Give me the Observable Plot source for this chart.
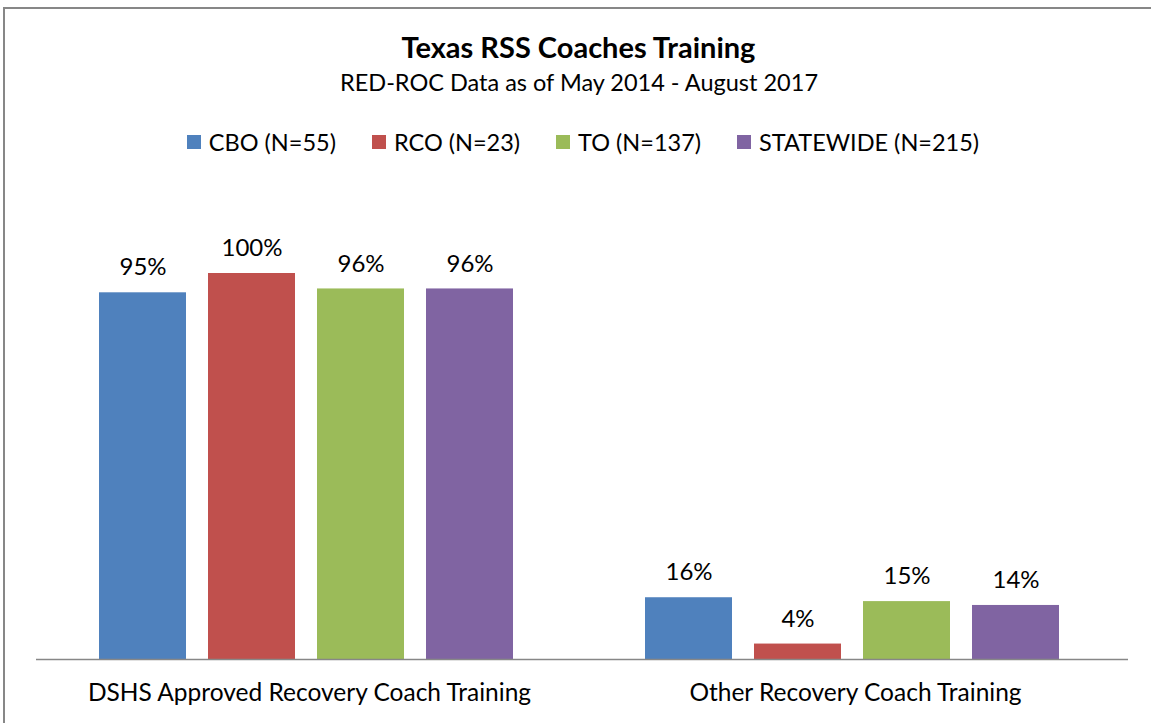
<!DOCTYPE html>
<html>
<head>
<meta charset="utf-8">
<script src="https://cdn.jsdelivr.net/npm/d3@7"></script>
<script src="https://cdn.jsdelivr.net/npm/@observablehq/plot@0.6"></script>
<style>
  html, body { margin: 0; padding: 0; background: #fff; width: 1151px; height: 723px; overflow: hidden; }
  body { position: relative; font-family: Lato, "Noto Sans", sans-serif; color: #000; }
  #frame { position: absolute; left: 3px; top: 7px; width: 1200px; height: 800px; border: 2px solid #878787; box-sizing: border-box; }
  #title { position: absolute; left: 0; width: 1157px; top: 29px; text-align: center; font-weight: bold; font-size: 29px; line-height: 35px; }
  #subtitle { position: absolute; left: 0; width: 1158px; top: 68px; text-align: center; font-size: 23.5px; line-height: 28px; }
  #legend { position: absolute; left: 0; width: 1166px; top: 128px; display: flex; justify-content: center; font-size: 23.5px; line-height: 28px; }
  .item { display: flex; align-items: center; margin: 0 18px; }
  .sw { width: 14px; height: 14px; margin-right: 8px; }
  #chart { position: absolute; left: 0; top: 0; }
</style>
</head>
<body>
<div id="frame"></div>
<div id="chart"></div>
<div id="title"></div>
<div id="subtitle"></div>
<div id="legend"></div>
<script>
const titleText = "Texas RSS Coaches Training";
const subtitleText = "RED-ROC Data as of May 2014 - August 2017";
const categories = ["DSHS Approved Recovery Coach Training", "Other Recovery Coach Training"];
const seriesNames = ["CBO (N=55)", "RCO (N=23)", "TO (N=137)", "STATEWIDE (N=215)"];
const seriesColors = ["#4F81BD", "#C0504D", "#9BBB59", "#8064A2"];
const dshsValues = [0.95, 1.00, 0.96, 0.96];
const otherValues = [0.16, 0.04, 0.15, 0.14];

const data = [];
seriesNames.forEach((s, i) => {
  data.push({category: categories[0], series: s, value: dshsValues[i]});
  data.push({category: categories[1], series: s, value: otherValues[i]});
});

document.getElementById("title").textContent = titleText;
document.getElementById("subtitle").textContent = subtitleText;
const legend = document.getElementById("legend");
seriesNames.forEach((s, i) => {
  const it = document.createElement("div");
  it.className = "item";
  const sw = document.createElement("div");
  sw.className = "sw";
  sw.style.background = seriesColors[i];
  const tx = document.createElement("span");
  tx.textContent = s;
  it.appendChild(sw); it.appendChild(tx);
  legend.appendChild(it);
});

const chart = Plot.plot({
  width: 1151,
  height: 723,
  marginTop: 273,
  marginBottom: 64,
  marginLeft: 35,
  marginRight: 23,
  style: {fontFamily: "Lato, 'Noto Sans', sans-serif", background: "transparent", color: "#000"},
  fx: {domain: categories, padding: 0, label: null},
  x: {domain: seriesNames, paddingInner: 0.2, paddingOuter: 0.6, align: 0.477, axis: null},
  y: {domain: [0, 1], axis: null},
  color: {domain: seriesNames, range: seriesColors},
  marks: [
    Plot.barY(data, {fx: "category", x: "series", y: "value", fill: "series"}),
    Plot.ruleY([0], {stroke: "#878787", strokeWidth: 1.5}),
    Plot.text(data, {fx: "category", x: "series", y: "value", text: d => Math.round(d.value * 100) + "%", dy: -25, fontSize: 24, fill: "#000"}),
    Plot.axisFx({anchor: "bottom", tickSize: 0, tickPadding: 24, fontSize: 24.5, fill: "#000", label: null})
  ]
});
document.getElementById("chart").appendChild(chart);
</script>
</body>
</html>
